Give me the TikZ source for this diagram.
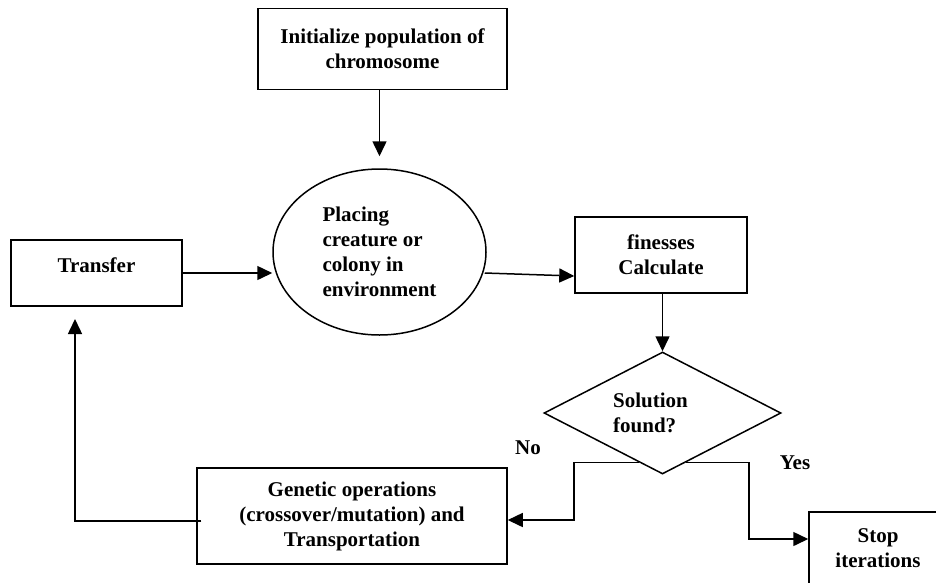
\documentclass[tikz,border=0pt]{standalone}
\usepackage{fontspec}
\setmainfont{Liberation Serif}
\usetikzlibrary{shapes.geometric,arrows.meta,calc}
\tikzset{
  box/.style={draw, line width=1.5pt, rectangle, inner sep=0pt, align=center,
    font=\bfseries\fontsize{21}{25}\selectfont},
  lbl/.style={inner sep=0pt, font=\bfseries\fontsize{21}{25}\selectfont},
  arr/.style={line width=1.5pt, -{Triangle[length=15pt,width=14pt]}},
  ln/.style={line width=1.5pt}
}
\begin{document}
\begin{tikzpicture}[x=1pt,y=-1pt]
\useasboundingbox (0,0) rectangle (936,582);
\clip (0,0) rectangle (936,582);
\fill[white] (0,0) rectangle (936,582);
\node[box, minimum width=249pt, minimum height=81pt] (init) at (382.5,49) {Initialize population of\\chromosome};
\node[box, ellipse, minimum width=213pt, minimum height=166pt, align=left] (ell) at (379.5,252) {Placing\\creature or\\colony in\\environment};
\node[box, minimum width=171pt, minimum height=66pt, text depth=16pt] (trans) at (96.5,273) {Transfer};
\node[box, minimum width=172pt, minimum height=76pt] (fin) at (661,255) {finesses\\Calculate};
\node[box, diamond, aspect=1.94, minimum width=237pt, minimum height=122pt, align=left] (dia) at (662.5,413) {Solution\hspace*{24pt}\\found?};
\node[box, minimum width=310pt, minimum height=96pt] (gen) at (352,516) {Genetic operations\\(crossover/mutation) and\\Transportation};
\node[box, minimum width=138pt, minimum height=73pt] (stop) at (878,548.5) {Stop\\iterations};
\node[lbl] (no) at (528,448) {No};
\node[lbl] (yes) at (795,463) {Yes};
\coordinate (nA) at (574,520);
\coordinate (yA) at (749,539);
\coordinate (tA) at (75,319);
\draw[arr, shorten >=12pt] (ell.north |- init.south) -- (ell.north);
\draw[arr] (trans.east) -- (trans.east -| ell.west);
\draw[arr] ([xshift=-2pt,yshift=-21pt]ell.east) -- ([yshift=-21pt]fin.west);
\draw[arr] (dia.north |- fin.south) -- (dia.north);
\draw[arr] ($(dia.south)!0.2!(dia.west)$) -| (nA) -- (nA -| gen.east);
\draw[arr] ($(dia.south)!0.2!(dia.east)$) -| (yA) -- (yA -| stop.west);
\draw[arr] ([xshift=5pt,yshift=-5pt]gen.west) -| (tA);
\end{tikzpicture}
\end{document}
